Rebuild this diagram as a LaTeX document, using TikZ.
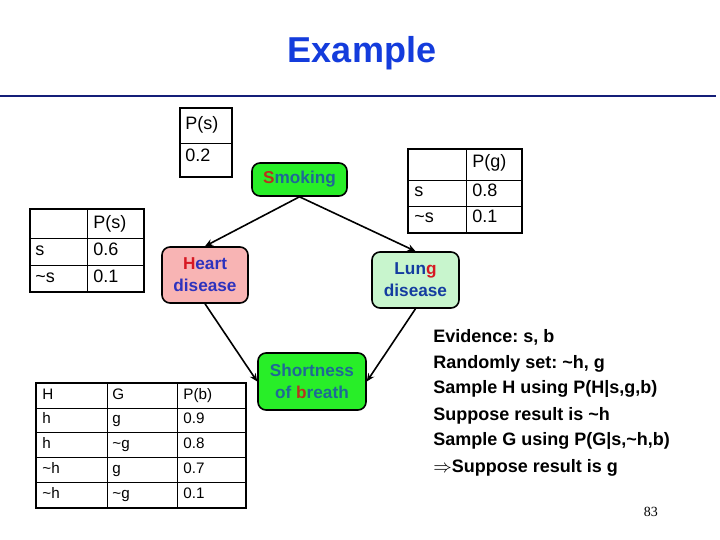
\documentclass[tikz,border=0pt]{standalone}
\usepackage{fontspec}
\setmainfont{Liberation Sans}
\newfontfamily\numfont{Liberation Serif}
\usetikzlibrary{arrows.meta}
\frenchspacing

\definecolor{titleblue}{RGB}{20,60,220}
\definecolor{rulenavy}{RGB}{20,30,120}
\definecolor{nodegreen}{RGB}{40,238,40}
\definecolor{lightgreen}{RGB}{200,245,205}
\definecolor{heartpink}{RGB}{248,180,180}
\definecolor{tealtext}{RGB}{30,105,150}
\definecolor{bluetext}{RGB}{45,50,190}
\definecolor{navytext}{RGB}{20,60,160}
\definecolor{redtext}{RGB}{215,25,35}
\definecolor{brownred}{RGB}{185,50,30}

\newcommand{\tld}{\textasciitilde}

\tikzset{
  bnode/.style={draw, thick, rounded corners=4pt, align=center,
    font=\fontsize{8.6}{11}\selectfont\bfseries, inner sep=1pt},
  bigcell/.style={anchor=west, inner sep=0pt, text height=6.5pt, text depth=2pt,
    font=\fontsize{9}{10}\selectfont},
  smallcell/.style={anchor=west, inner sep=0pt, text height=5.5pt, text depth=1.5pt,
    font=\fontsize{7.6}{9}\selectfont},
  evid/.style={anchor=west, inner sep=0pt, text height=7pt, text depth=2pt,
    font=\fontsize{9}{13}\selectfont\bfseries},
}

\begin{document}
\begin{tikzpicture}[x=0.5pt,y=-0.5pt,>={Stealth[length=4pt,width=3.5pt]}]
   \useasboundingbox (0,0) rectangle (720,540);

   % title and rule
   \node[font=\fontsize{18}{20}\selectfont\bfseries, text=titleblue] (title) at (362,53) {Example};
   \draw[rulenavy, line width=1pt] (0,96) -- (716,96);

   % network
   \node[bnode, fill=nodegreen, text=tealtext, minimum width=47.5pt, minimum height=16.5pt] (smoke) at (299.5,179.5)
      {\textcolor{brownred}{S}moking};
   \node[bnode, fill=heartpink, text=bluetext, minimum width=43pt, minimum height=28pt] (heart) at (205,275)
      {\textcolor{redtext}{H}eart\\disease};
   \node[bnode, fill=lightgreen, text=navytext, minimum width=43.5pt, minimum height=28pt] (lung) at (415.5,280)
      {Lun\textcolor{redtext}{g}\\disease};
   \node[bnode, fill=nodegreen, text=tealtext, minimum width=54pt, minimum height=28.5pt] (breath) at (312,381.5)
      {Shortness\\of \textcolor{brownred}{b}reath};

   \path[->, thick] (smoke.south) edge (heart.north);
   \path[->, thick] (smoke.south) edge (lung.north);
   \path[->, thick] (heart.south) edge (breath.west);
   \path[->, thick] (lung.south) edge (breath.east);

   % table P(s)
   \draw (180,143) -- (232,143);
   \draw[line width=0.9pt] (180,108) rectangle (232,177);
   \node[bigcell] (ps0) at (185,125) {P(s)};
   \node[bigcell] (ps1) at (185,157) {0.2};

   % table P(h)
   \draw (87,209) -- (87,292);
   \draw (30,238) -- (144,238);
   \draw (30,265) -- (144,265);
   \draw[line width=0.9pt] (30,209) rectangle (144,292);
   \node[bigcell] (ph0) at (93,224) {P(s)};
   \node[bigcell] (ph1) at (35,251) {s};
   \node[bigcell] (ph2) at (93,251) {0.6};
   \node[bigcell] (ph3) at (35,278) {\tld s};
   \node[bigcell] (ph4) at (93,278) {0.1};

   % table P(g)
   \draw (466,149) -- (466,233);
   \draw (408,180) -- (522,180);
   \draw (408,206) -- (522,206);
   \draw[line width=0.9pt] (408,149) rectangle (522,233);
   \node[bigcell] (pg0) at (472,163) {P(g)};
   \node[bigcell] (pg1) at (414,192) {s};
   \node[bigcell] (pg2) at (472,192) {0.8};
   \node[bigcell] (pg3) at (414,218) {\tld s};
   \node[bigcell] (pg4) at (472,218) {0.1};

   % table P(b)
   \draw (107,383) -- (107,508);
   \draw (177,383) -- (177,508);
   \draw (36,408) -- (246,408);
   \draw (36,432) -- (246,432);
   \draw (36,457) -- (246,457);
   \draw (36,482) -- (246,482);
   \draw[line width=0.9pt] (36,383) rectangle (246,508);
   \node[smallcell] (pb0) at (42,396) {H};
   \node[smallcell] (pb1) at (112,396) {G};
   \node[smallcell] (pb2) at (183,396) {P(b)};
   \node[smallcell] (pb3) at (42,420) {h};
   \node[smallcell] (pb4) at (112,420) {g};
   \node[smallcell] (pb5) at (183,420) {0.9};
   \node[smallcell] (pb6) at (42,445) {h};
   \node[smallcell] (pb7) at (112,445) {\tld g};
   \node[smallcell] (pb8) at (183,445) {0.8};
   \node[smallcell] (pb9) at (42,470) {\tld h};
   \node[smallcell] (pb10) at (112,470) {g};
   \node[smallcell] (pb11) at (183,470) {0.7};
   \node[smallcell] (pb12) at (42,495) {\tld h};
   \node[smallcell] (pb13) at (112,495) {\tld g};
   \node[smallcell] (pb14) at (183,495) {0.1};

   % evidence
   \node[evid] (ev1) at (433,338) {Evidence: s, b};
   \node[evid] (ev2) at (433,364) {Randomly set: \tld h, g};
   \node[evid] (ev3) at (433,389) {Sample H using P(H|s,g,b)};
   \node[evid] (ev4) at (433,416) {Suppose result is \tld h};
   \node[evid] (ev5) at (433,441) {Sample G using P(G|s,\tld h,b)};
   \node[evid] (ev6) at (433,468) {$\Rightarrow$Suppose result is g};

   \node[font=\numfont\fontsize{7}{8}\selectfont] (page) at (651,512) {83};
\end{tikzpicture}
\end{document}
